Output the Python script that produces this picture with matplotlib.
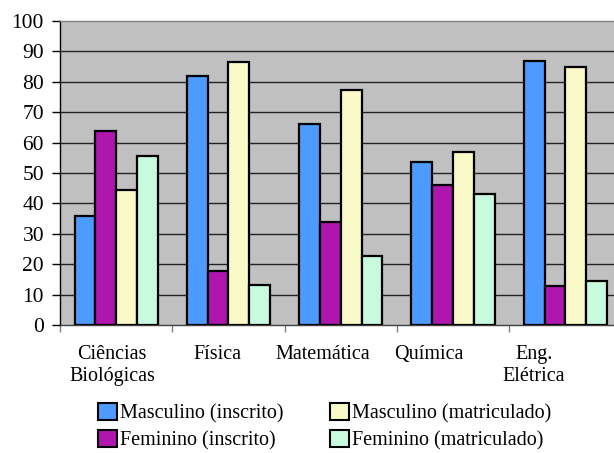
import matplotlib
matplotlib.use("Agg")
import matplotlib.pyplot as plt
from matplotlib.patches import Patch
import numpy as np

categories = ["Ciências\nBiológicas", "Física", "Matemática", "Química", "Eng.\nElétrica"]
series_names = ["Masculino (inscrito)", "Feminino (inscrito)",
                "Masculino (matriculado)", "Feminino (matriculado)"]
masc_inscrito = [36, 82, 66, 53.7, 87]
fem_inscrito = [63.8, 17.6, 33.8, 46, 12.7]
masc_matriculado = [44.3, 86.5, 77.2, 56.8, 85]
fem_matriculado = [55.5, 13.2, 22.6, 43, 14.6]
yticks = [0, 10, 20, 30, 40, 50, 60, 70, 80, 90, 100]

series = [masc_inscrito, fem_inscrito, masc_matriculado, fem_matriculado]
colors = ["#4D9BFF", "#AE16AE", "#FAFAC8", "#C8FADE"]

plt.rcParams["font.family"] = ["Liberation Serif", "DejaVu Serif"]

fig = plt.figure(figsize=(6.14, 4.53), dpi=100)
W, H = 614, 453
ax = fig.add_axes([60 / W, (H - 325) / H, 561.5 / W, 304 / H])
ax.set_facecolor("#C0C0C0")

n = len(categories)
x = np.arange(n) + 0.5
bw = 0.185
for k, (vals, c) in enumerate(zip(series, colors)):
    ax.bar(x + (k - 1.5) * bw, vals, width=bw, color=c, edgecolor="black",
           linewidth=1.6, zorder=3)

ax.set_xlim(0, n)
ax.set_ylim(0, 100)
ax.set_yticks(yticks)
ax.set_yticklabels([str(v) for v in yticks], fontsize=15.5)
ax.tick_params(axis="y", direction="out", length=5.5, width=1, pad=6, color="black")
for v in yticks[1:-1]:
    ax.axhline(v, color="#222222", linewidth=1, zorder=1)

ax.set_xticks(np.arange(n + 1))
ax.set_xticklabels([])
ax.tick_params(axis="x", direction="out", length=5, width=1, color="#808080")

# category labels (Excel-like placement)
for i, lab in enumerate(categories):
    xp = i + 0.5 - 0.037 - 0.061 * i
    ax.text(xp, -6.5, lab, ha="center", va="top", fontsize=14.5,
            linespacing=1.22, transform=ax.transData)

ax.spines["left"].set_color("black")
ax.spines["bottom"].set_color("#404040")
ax.spines["top"].set_color("#808080")
ax.spines["right"].set_visible(False)
for s in ax.spines.values():
    s.set_linewidth(1)

handles = [Patch(facecolor=c, edgecolor="black", linewidth=1.5) for c in colors]
fig.legend(handles, series_names, loc="upper left",
           bbox_to_anchor=(98 / W, 1 - 403 / H), ncol=2, frameon=False,
           fontsize=14.5, handlelength=0.95, handleheight=0.95,
           handletextpad=0.15, columnspacing=2.3, labelspacing=0.32,
           borderpad=0, borderaxespad=0)

fig.savefig("out.png", dpi=100)
